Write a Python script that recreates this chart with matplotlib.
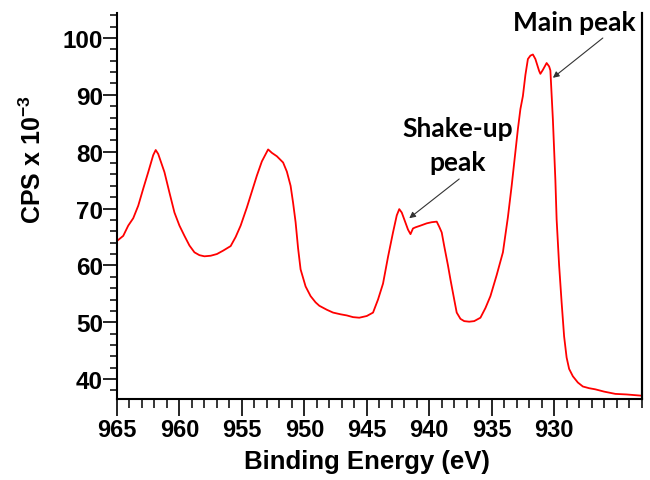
import matplotlib
matplotlib.use("Agg")
import matplotlib.pyplot as plt
from matplotlib.lines import Line2D
from matplotlib.ticker import MultipleLocator

# Cu 2p XPS spectrum: binding energy (eV) and counts (CPS x 10^-3)
binding_energy = [
    965.0, 964.5, 964.1, 963.7, 963.3, 962.9, 962.5, 962.1, 961.9, 961.7,
    961.2, 960.8, 960.4, 960.0, 959.6, 959.2, 958.8, 958.4, 958.0, 957.5,
    957.0, 956.5, 955.9, 955.5, 955.1, 954.6, 954.2, 953.8, 953.4, 952.9,
    952.6, 952.2, 951.7, 951.4, 951.1, 950.9, 950.7, 950.5, 950.3, 949.9,
    949.5, 949.1, 948.8, 948.2, 947.7, 947.1, 946.6, 946.1, 945.6, 945.0,
    944.5, 944.1, 943.7, 943.3, 942.9, 942.6, 942.4, 942.2, 942.0, 941.7,
    941.5, 941.3, 941.1, 940.7, 940.2, 939.8, 939.4, 939.2, 939.0, 938.8,
    938.5, 938.3, 938.0, 937.8, 937.5, 937.2, 936.8, 936.4, 935.9, 935.5,
    935.1, 934.6, 934.1, 933.7, 933.4, 933.1, 932.9, 932.7, 932.5, 932.3,
    932.1, 931.9, 931.7, 931.5, 931.4, 931.2, 931.1, 930.9, 930.6, 930.4,
    930.3, 930.2, 930.1, 929.9, 929.8, 929.6, 929.4, 929.2, 929.0, 928.8,
    928.5, 928.1, 927.7, 927.2, 926.7, 926.0, 925.1, 924.2, 923.1,
]
cps = [
    64.3, 65.2, 67.0, 68.3, 70.5, 73.5, 76.4, 79.4, 80.3, 79.6,
    76.4, 72.8, 69.3, 67.0, 65.2, 63.5, 62.3, 61.8, 61.6, 61.7,
    62.0, 62.6, 63.4, 65.0, 67.0, 70.2, 73.0, 75.8, 78.3, 80.4,
    79.8, 79.2, 78.1, 76.5, 74.0, 71.0, 67.6, 63.0, 59.3, 56.3,
    54.6, 53.5, 52.9, 52.2, 51.7, 51.4, 51.2, 50.9, 50.8, 51.1,
    51.7, 54.0, 56.8, 61.5, 65.8, 68.8, 69.9, 69.3, 68.1, 66.3,
    65.5, 66.5, 66.7, 67.0, 67.4, 67.6, 67.7, 66.8, 65.8, 63.4,
    60.0, 57.5, 54.0, 51.7, 50.6, 50.2, 50.1, 50.2, 50.8, 52.5,
    54.6, 58.3, 62.3, 68.5, 74.0, 80.0, 84.0, 87.5, 89.8, 93.5,
    96.3, 96.9, 97.1, 96.3, 95.6, 94.2, 93.7, 94.4, 95.6, 95.0,
    94.3, 90.0, 85.7, 75.0, 68.1, 60.0, 53.5, 47.5, 43.8, 41.8,
    40.5, 39.4, 38.7, 38.4, 38.2, 37.8, 37.4, 37.3, 37.1,
]

x_ticks = [965, 960, 955, 950, 945, 940, 935, 930]
y_ticks = [40, 50, 60, 70, 80, 90, 100]

plt.rcParams["font.family"] = ["Liberation Sans", "DejaVu Sans"]
plt.rcParams["mathtext.fontset"] = "custom"
plt.rcParams["mathtext.rm"] = "Liberation Sans:bold"
plt.rcParams["mathtext.bf"] = "Liberation Sans:bold"

fig = plt.figure(figsize=(6.5, 4.81), dpi=100)
ax = fig.add_axes([0.18, 0.1684, 0.8070, 0.8025])

ax.plot(binding_energy, cps, color="#ff0000", lw=1.3)

ax.set_xlim(965, 923.0)
ax.set_ylim(36.5, 104.4)
ax.set_xticks(x_ticks)
ax.set_yticks(y_ticks)
ax.xaxis.set_minor_locator(MultipleLocator(1))
ax.yaxis.set_minor_locator(MultipleLocator(2))

ax.spines["top"].set_visible(False)
for s in ("left", "bottom", "right"):
    ax.spines[s].set_linewidth(1.5)
    ax.spines[s].set_color("#000000")

# right-hand frame line along the axes' right edge, in figure coordinates
pos = ax.get_position()
fig.add_artist(Line2D([pos.x1, pos.x1], [pos.y0, pos.y1],
                      transform=fig.transFigure, color="#000000", lw=1.5,
                      zorder=10))

ax.tick_params(axis="x", which="major", direction="out", length=12, width=1.2,
               labelsize=17, pad=2)
ax.tick_params(axis="x", which="minor", direction="out", length=6.5, width=1.1)
ax.tick_params(axis="y", which="major", direction="out", length=10, width=1.2,
               labelsize=17.5, pad=0)
ax.tick_params(axis="y", which="minor", direction="out", length=5, width=1.1)
for lab in ax.get_xticklabels() + ax.get_yticklabels():
    lab.set_fontweight("bold")

fig.text(367 / 650, 1 - 462 / 481, "Binding Energy (eV)", ha="center",
         va="center", fontsize=18.5, fontweight="bold")
fig.text(33 / 650, 1 - 160 / 481, r"CPS x 10$^{-3}$", ha="center",
         va="center", rotation=90, fontsize=18, fontweight="bold")

arrow = dict(arrowstyle="-|>", color="#333333", lw=0.8,
             mutation_scale=9, shrinkA=0, shrinkB=0)
ax.annotate("", xy=(930.1, 93.0), xytext=(926.1, 100.0), arrowprops=arrow)
ax.annotate("", xy=(941.6, 68.3), xytext=(937.6, 75.2), arrowprops=arrow)

ax.text(928.4, 102.8, "Main peak", ha="center", va="center", fontsize=19,
        fontweight="bold", family=["Lato", "DejaVu Sans"], clip_on=False)
ax.text(937.7, 81.1, "Shake-up\npeak", ha="center", va="center", fontsize=19,
        fontweight="bold", family=["Lato", "DejaVu Sans"], linespacing=1.5)

fig.savefig("out.png", dpi=100)
